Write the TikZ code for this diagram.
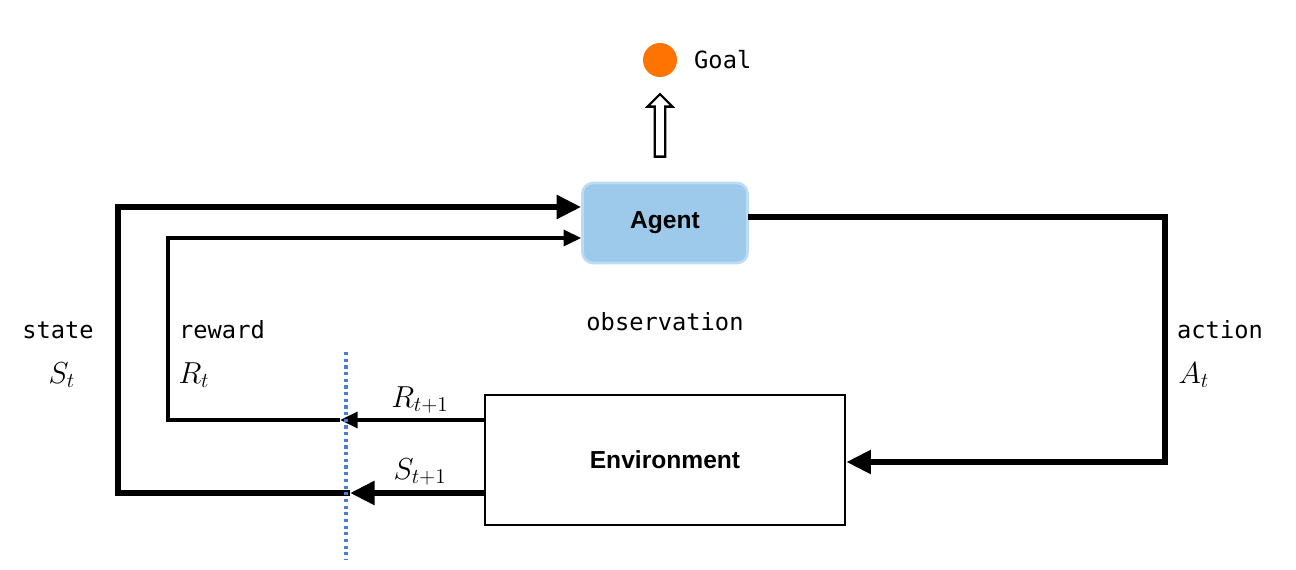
\documentclass[tikz,border=0pt]{standalone}
\usepackage{fontspec}
\setmainfont{Liberation Sans}
\newfontfamily\mono{DejaVu Sans Mono}
\usetikzlibrary{arrows.meta,shapes.arrows}
\begin{document}
\begin{tikzpicture}[x=0.02cm,y=-0.02cm,
  thk/.style={line width=3.4pt},
  thn/.style={line width=2pt},
  thkarr/.style={thk,-{Triangle[length=14pt,width=13pt]}},
  thnarr/.style={thn,-{Triangle[length=10pt,width=9pt]}},
  mlab/.style={font=\mono\fontsize{13.5}{15}\selectfont},
  math/.style={font=\fontsize{17}{19}\selectfont}]
\useasboundingbox (0,0) rectangle (1296,570);
\definecolor{agentfill}{HTML}{9DC9EA}
\definecolor{agentdraw}{HTML}{BBDCF3}
\definecolor{dotblue}{HTML}{4A7FD4}
\node[draw=agentdraw,line width=1.5pt,fill=agentfill,rounded corners=6pt,minimum width=3.3cm,minimum height=1.6cm,font=\bfseries\fontsize{14}{16}\selectfont] (agent) at (665,223) {Agent};
\node[draw,line width=1.6pt,minimum width=7.2cm,minimum height=2.6cm,font=\bfseries\fontsize{14}{16}\selectfont] (env) at (665,460) {Environment};
\node[circle,fill=orange!90!red,minimum size=0.68cm,inner sep=0] (goal) at (660,60) {};
\node[mlab,anchor=west] (goaltxt) at (688,60) {Goal};
\node[single arrow,draw,line width=1.3pt,shape border rotate=90,minimum height=1.25cm,minimum width=0.5cm,single arrow head extend=0.08cm,inner sep=1pt] (hol) at (660,128) {};
% state loop
\coordinate (s0) at (485,493);
\coordinate (s1) at (350,493);
\coordinate (s2) at (118,493);
\coordinate (s3) at (118,207);
\draw[thkarr] (s0) -- (s1);
\draw[thkarr] (s1) -- (s2) -- (s3) -- (agent.west|-s3);
% reward loop
\coordinate (r0) at (485,420);
\coordinate (r1) at (340,420);
\coordinate (r2) at (168,420);
\coordinate (r3) at (168,238);
\draw[thnarr] (r0) -- (r1);
\draw[thnarr] (r1) -- (r2) -- (r3) -- (agent.west|-r3);
% action
\coordinate (a0) at (748,217);
\coordinate (a1) at (1165,217);
\coordinate (a2) at (1165,462);
\draw[thkarr] (a0) -- (a1) -- (a2) -- (env.east|-a2);
% dotted
\coordinate (d0) at (346,352);
\coordinate (d1) at (346,560);
\draw[dotblue,line width=1.8pt,dotted] (d0) -- (d1);
% labels
\node[mlab] (lstate) at (58,330) {state};
\node[math] (lst) at (62,375) {$S_t$};
\node[mlab] (lrew) at (222,330) {reward};
\node[math] (lrt) at (194,375) {$R_t$};
\node[mlab] (lobs) at (665,322) {observation};
\node[mlab] (lact) at (1220,330) {action};
\node[math] (lat) at (1194,375) {$A_t$};
\node[math] (lr1) at (420,400) {$R_{t+1}$};
\node[math] (ls1) at (420,472) {$S_{t+1}$};
\end{tikzpicture}
\end{document}
